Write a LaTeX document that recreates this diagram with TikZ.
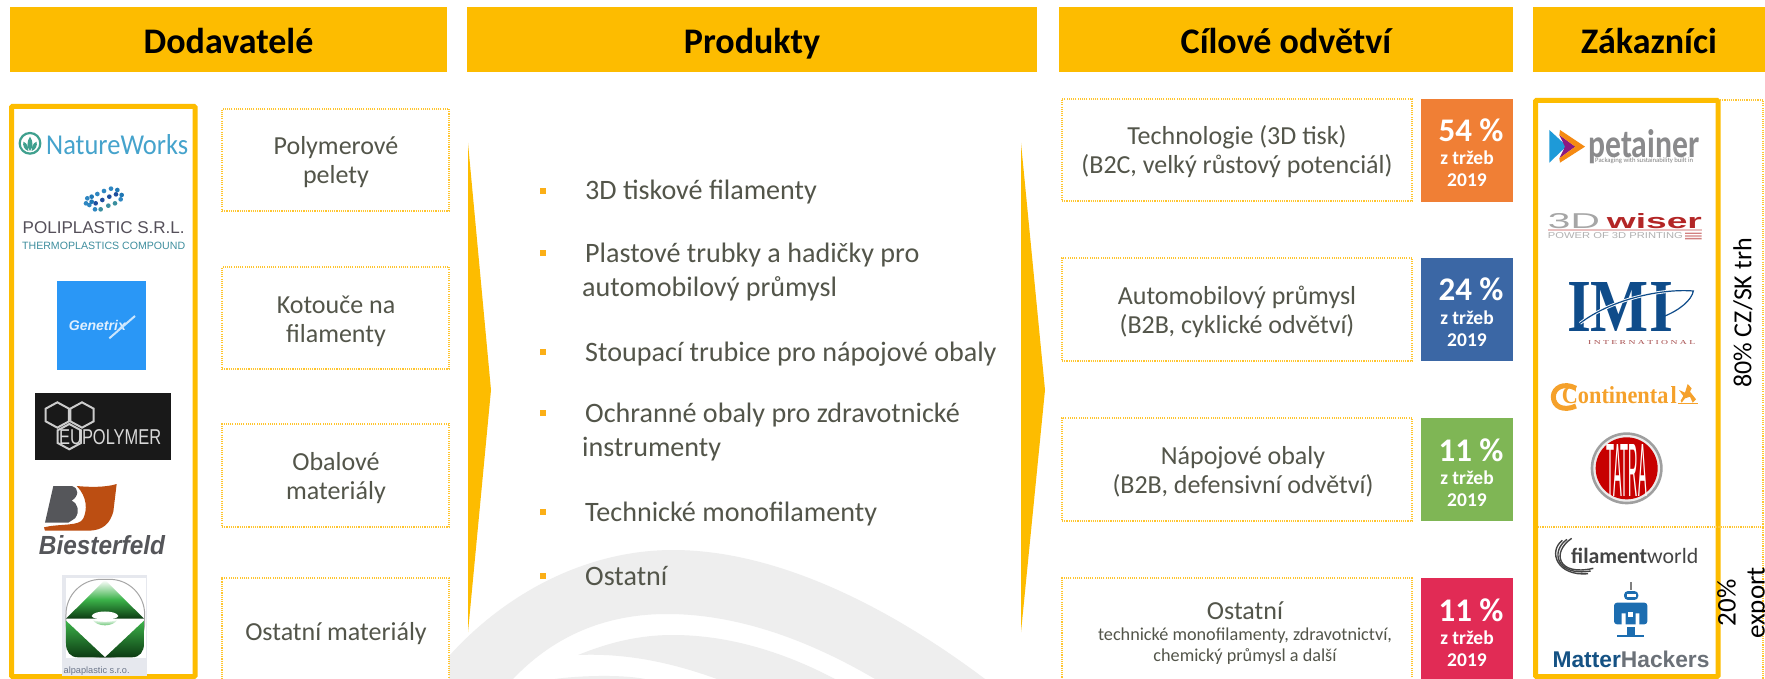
\documentclass[tikz,border=0pt]{standalone}
\usepackage{fontspec}
\usepackage{graphicx}
\setmainfont{Carlito}
\newfontfamily\arialf{Liberation Sans}
\newfontfamily\timesf{Liberation Serif}
\usetikzlibrary{shadings}
\definecolor{gold}{HTML}{FDBC00}
\definecolor{dotgold}{HTML}{FFC52E}
\definecolor{ink}{HTML}{53554A}
\definecolor{wm}{HTML}{EEEEEE}
\definecolor{bull}{HTML}{FBAF17}
\definecolor{cOrange}{HTML}{F07F35}
\definecolor{cBlue}{HTML}{3B67A5}
\definecolor{cGreen}{HTML}{7FB655}
\definecolor{cRed}{HTML}{E12B55}
\newcommand{\fz}[2]{\fontsize{#1}{#2}\selectfont}
\newcommand{\fitw}[2]{\resizebox{#1pt}{!}{#2}}
\newcommand{\fitwh}[3]{\resizebox{#1pt}{#2pt}{#3}}
\tikzset{
  header/.style={fill=gold,draw=none,inner sep=0,minimum height=65pt,text height=30pt,text depth=2pt,font=\fz{36}{40}\bfseries,text=black},
  dotbox/.style={draw=dotgold,line width=1.1pt,dash pattern=on 1.1pt off 1.1pt,fill=white,inner sep=0},
  lab/.style={anchor=base,inner sep=0,text=ink,font=\fz{26}{30}},
  lab2/.style={anchor=base,inner sep=0,text=ink,font=\fz{18.2}{22}},
  badge/.style={fill=#1,draw=none,inner sep=0,minimum width=92pt,minimum height=103pt},
  pct/.style={anchor=base,text=white,inner sep=0,font=\fz{33}{36}\bfseries},
  sub/.style={anchor=base,text=white,inner sep=0,font=\fz{19.5}{22}\bfseries},
  item/.style={anchor=west,inner sep=0,text=ink,text height=22pt,text depth=4pt,font=\fz{28.1}{32}},
  bullet/.style={fill=bull,draw=none,inner sep=0,minimum size=5.5pt},
  frame/.style={draw=gold,line width=5pt,rounded corners=1pt},
  dotline/.style={draw=dotgold,line width=1.1pt,dash pattern=on 1.1pt off 1.1pt},
  txt/.style={inner sep=0},
  zA/.style={shift={(0,90)},x=.33333pt,y=-.33333pt},
  zB/.style={shift={(0,380)},x=.33333pt,y=-.33333pt},
  zC/.style={shift={(1500,90)},x=.33333pt,y=-.33333pt},
  zD/.style={shift={(1500,380)},x=.33333pt,y=-.33333pt},
}
% two-line label centred in a box: name, x, box centre y, line 1, line 2
\newcommand{\twolab}[5]{%
  \node[lab] (#1a) at (#2,#3-5) {#4};
  \node[lab] (#1b) at (#2,#3+24) {#5};}
% badge: name, colour, top y, height, percentage
\newcommand{\pctbadge}[5]{%
  \node[badge=#2,minimum height=#4pt] (#1) at (1467,#3+#4/2) {};
  \node[pct] (#1a) at (1471,#3+43) {#5 \%};
  \node[sub] (#1b) at (1467,#3+66) {z tržeb};
  \node[sub] (#1c) at (1467,#3+88) {2019};}
\begin{document}
\begin{tikzpicture}[x=1pt,y=-1pt]
\clip (0,0) rectangle (1765,679);
\fill[white] (0,0) rectangle (1765,679);
% watermark
\fill[wm] (430,679) .. controls (490,600) and (580,550) .. (673,550) .. controls (770,550) and (880,600) .. (985,679) -- (875,679) .. controls (800,635) and (730,614) .. (667,614) .. controls (600,614) and (550,640) .. (513,679) -- cycle;
\fill[wm] (578,655) .. controls (610,642) and (640,635) .. (673,635) .. controls (725,635) and (780,650) .. (835,679) -- (717,679) .. controls (670,662) and (625,653) .. (578,655) -- cycle;
\fill[wm] (555,679) .. controls (575,676) and (620,674) .. (645,679) -- cycle;
% headers
\node[header,minimum width=437pt] (h1) at (228.5,39.5) {Dodavatelé};
\node[header,minimum width=570pt] (h2) at (752,39.5) {Produkty};
\node[header,minimum width=454pt] (h3) at (1286,39.5) {Cílové odvětví};
\node[header,minimum width=232pt] (h4) at (1649,39.5) {Zákazníci};
% arrows
\fill[gold] (468,143) -- (491,390) -- (468,632) -- cycle;
\fill[gold] (1021,143) -- (1045,390) -- (1021,632) -- cycle;
% supplier boxes
\node[dotbox,minimum width=227pt,minimum height=102pt] (s1) at (335.5,160) {};
\twolab{s1}{336}{160}{Polymerové}{pelety}
\node[dotbox,minimum width=227pt,minimum height=102pt] (s2) at (335.5,318) {};
\twolab{s2}{336}{318}{Kotouče na}{filamenty}
\node[dotbox,minimum width=227pt,minimum height=103pt] (s3) at (335.5,475.5) {};
\twolab{s3}{336}{475.5}{Obalové}{materiály}
\node[dotbox,minimum width=227pt,minimum height=108pt] (s4) at (335.5,632) {};
\node[lab] (s4a) at (336,640) {Ostatní materiály};
% products
\node[bullet] (b1) at (543,191) {};
\node[item] (i1) at (585,191) {3D tiskové filamenty};
\node[bullet] (b2) at (543,253) {};
\node[item] (i2) at (585,253) {Plastové trubky a hadičky pro};
\node[item] (i2b) at (582,287) {automobilový průmysl};
\node[bullet] (b3) at (543,352) {};
\node[item] (i3) at (585,352) {Stoupací trubice pro nápojové obaly};
\node[bullet] (b4) at (543,413) {};
\node[item] (i4) at (585,413) {Ochranné obaly pro zdravotnické};
\node[item] (i4b) at (582,447) {instrumenty};
\node[bullet] (b5) at (543,512) {};
\node[item] (i5) at (585,512) {Technické monofilamenty};
\node[bullet] (b6) at (543,576) {};
\node[item] (i6) at (585,576) {Ostatní};
% industries
\node[dotbox,minimum width=350pt,minimum height=102pt] (t1) at (1237,150) {};
\twolab{t1}{1237}{150}{Technologie (3D tisk)}{(B2C, velký růstový potenciál)}
\node[dotbox,minimum width=350pt,minimum height=103pt] (t2) at (1237,309.5) {};
\twolab{t2}{1237}{309.5}{Automobilový průmysl}{(B2B, cyklické odvětví)}
\node[dotbox,minimum width=350pt,minimum height=103pt] (t3) at (1237,469.5) {};
\twolab{t3}{1243}{469.5}{Nápojové obaly}{(B2B, defensivní odvětví)}
\node[dotbox,minimum width=350pt,minimum height=108pt] (t4) at (1237,632) {};
\node[lab] (t4a) at (1245,619) {Ostatní};
\node[lab2] (t4b) at (1245,640) {technické monofilamenty, zdravotnictví,};
\node[lab2] (t4c) at (1245,661) {chemický průmysl a další};
% badges
\pctbadge{g1}{cOrange}{99}{103}{54}
\pctbadge{g2}{cBlue}{258}{103}{24}
\pctbadge{g3}{cGreen}{418}{103}{11}
\pctbadge{g4}{cRed}{578}{104}{11}
% frames
\draw[frame] (11.5,106.5) rectangle (195,676.5);
\draw[frame] (1535.5,100.5) rectangle (1718,676.5);
% right dotted
\draw[dotline] (1720,100) -- (1763,100) -- (1763,679);
\draw[dotline] (1538,527) -- (1765,527);
\node[txt,rotate=90,font=\fz{26}{30}] (m1) at (1743,313) {80\% CZ/SK trh};
\node[txt,rotate=90,align=center,font=\fz{27}{29}] (m2) at (1743,603) {20\%\\export};
% ---- supplier logos
\begin{scope}[zA]
  \definecolor{nwt}{HTML}{3FA08E}
  \definecolor{nwb}{HTML}{45A3CC}
  \draw[draw=nwt,line width=2.2pt,fill=white] (90,160) circle (31);
  \fill[nwt] (90,140) .. controls (100,155) and (100,170) .. (90,183) .. controls (80,170) and (80,155) .. (90,140) -- cycle;
  \fill[nwt] (70,155) .. controls (82,160) and (85,170) .. (85,183) .. controls (72,178) and (68,168) .. (70,155) -- cycle;
  \fill[nwt] (110,155) .. controls (98,160) and (95,170) .. (95,183) .. controls (108,178) and (112,168) .. (110,155) -- cycle;
  \node[txt,text=nwb,anchor=west] (nw) at (138,163) {\fitwh{142}{20}{\fz{30}{30}NatureWorks}};
  \foreach \a/\b/\c in {262/325/2E86C1,275/320/1F77B4,292/312/2E86C1,312/303/2E86C1,333/296/2E86C1,352/300/1F77B4,365/315/1F77B4,362/328/2E86C1,345/340/3A8E9E,325/347/3A8E9E,287/340/1F4E9E,307/330/1F4E9E,328/320/1F4E9E,348/313/1F4E9E,268/345/2E86C1,285/358/2E86C1,302/358/3A8E9E,258/340/2E86C1,275/335/1F77B4}{
    \definecolor{dc}{HTML}{\c}
    \fill[dc] (\a,\b) circle (7);
  }
  \definecolor{plg}{HTML}{55505A}
  \definecolor{plt}{HTML}{3E8E9E}
  \node[txt,text=plg] (pl1) at (311,413) {\fitw{162}{\arialf POLIPLASTIC S.R.L.}};
  \node[txt,text=plt] (pl2) at (311,468) {\fitw{163}{\arialf THERMOPLASTICS COMPOUND}};
  \definecolor{genb}{HTML}{2A97F6}
  \fill[genb] (171,573) rectangle (438,840);
  \node[txt,text=white!85!genb] (gx) at (292,707) {\fitw{57}{\arialf\bfseries\itshape Genetrix}};
  \draw[white!75!genb,line width=2pt] (328,745) -- (405,678);
\end{scope}
\begin{scope}[zB]
  \fill[black!90] (105,39) rectangle (513,240);
  \foreach \a/\b in {172/105,246/105,208/170}{
    \draw[white!80!black,line width=2pt,fill=black!90] (\a,\b-38) -- (\a+35,\b-19) -- (\a+35,\b+19) -- (\a,\b+38) -- (\a-35,\b+19) -- (\a-35,\b-19) -- cycle;
  }
  \node[txt,text=white!85!black,anchor=west] (eu) at (177,170) {\fitwh{102}{15}{\arialf EUPOLYMER}};
  \definecolor{bzg}{HTML}{55565A}
  \definecolor{bzo}{HTML}{BC4E12}
  \fill[bzg] (160,318) -- (215,318) .. controls (240,325) and (235,350) .. (215,362) .. controls (235,372) and (240,395) .. (225,415) -- (205,428) -- (135,428) -- cycle;
  \fill[bzo] (230,318) .. controls (270,322) and (320,322) .. (350,312) -- (340,395) .. controls (330,430) and (310,450) .. (270,452) -- (135,452) -- (132,442) .. controls (180,430) and (240,440) .. (250,415) .. controls (262,390) and (262,350) .. (230,318) -- cycle;
  \node[txt,text=bzg] (bf) at (306,495) {\fitwh{126}{19}{\arialf\bfseries\itshape Biesterfeld}};
  \definecolor{alg}{HTML}{E6E8EE}
  \definecolor{ald}{HTML}{0C3A12}
  \definecolor{alm}{HTML}{3CB34A}
  \definecolor{alt}{HTML}{6A7488}
  \fill[alg] (186,585) rectangle (441,888);
  \fill[white] (198,595) rectangle (437,835);
  \draw[gray!70,line width=1pt,rounded corners=35pt] (198,598) rectangle (434,832);
  \shade[top color=white,bottom color=ald,middle color=alm] (315,600) -- (432,716) -- (198,716) -- cycle;
  \shade[top color=alm,bottom color=ald] (198,722) -- (315,832) -- (235,832) .. controls (210,832) and (198,815) .. (198,790) -- cycle;
  \shade[top color=alm,bottom color=ald] (432,722) -- (315,832) -- (395,832) .. controls (420,832) and (432,815) .. (432,790) -- cycle;
  \fill[white] (275,708) .. controls (280,690) and (350,690) .. (355,708) .. controls (350,722) and (280,722) .. (275,708) -- cycle;
  \shade[top color=white,bottom color=alm] (277,718) .. controls (290,742) and (340,742) .. (353,718) .. controls (340,728) and (290,728) .. (277,718) -- cycle;
  \node[txt,text=alt] (al) at (290,873) {\fitw{66}{\arialf alpaplastic s.r.o.}};
\end{scope}
% ---- customer logos
\begin{scope}[zC]
  \definecolor{peg}{HTML}{8A8A8C}
  \definecolor{peo}{HTML}{F58A12}
  \definecolor{pep}{HTML}{8A1A82}
  \definecolor{peb}{HTML}{1E9AD8}
  \fill[peb] (148,120) -- (200,168) -- (148,218) -- cycle;
  \fill[pep] (178,135) -- (226,170) -- (178,205) -- (195,170) -- cycle;
  \fill[peo] (180,120) -- (255,170) -- (180,218) -- (178,205) -- (226,170) -- (178,135) -- cycle;
  \node[txt,text=peg,anchor=west] (pe) at (265,170) {\fitwh{111}{28}{\fz{30}{30}\bfseries petainer}};
  \node[txt,text=gray,anchor=west,fill=white] (pe2) at (285,212) {\fitw{98}{Packaging with sustainability built in}};
  \node[txt,text=gray!70,anchor=west] (w1) at (143,392) {\fitwh{52}{15}{\arialf 3D}};
  \node[txt,text=red!65!black!85,anchor=west] (w2) at (320,392) {\fitwh{95}{15}{\arialf\bfseries wiser}};
  \node[txt,text=gray!60,anchor=west] (w3) at (143,437) {\fitwh{135}{6}{\arialf POWER OF 3D PRINTING}};
  \fill[red!65!black!50] (555,428) rectangle (605,432) (555,436) rectangle (605,440) (555,444) rectangle (605,448);
  \fill[red!65!black!25] (143,417) rectangle (605,424);
  \definecolor{imib}{HTML}{0F4C8A}
  \node[txt,text=imib] (im) at (360,652) {\fitwh{106}{49}{\timesf\bfseries IMI}};
  \draw[white,line width=3pt] (240,700) .. controls (330,630) and (480,595) .. (580,603);
  \draw[imib,line width=1.2pt] (240,700) .. controls (330,630) and (480,595) .. (580,603) .. controls (575,630) and (540,660) .. (490,680);
  \node[txt,text=red!50!black!70] (im2) at (425,758) {\fitwh{107}{4}{\timesf\fz{8}{8}I N T E R N A T I O N A L}};
\end{scope}
\begin{scope}[zD]
  \definecolor{cont}{HTML}{F5A12B}
  \draw[cont,line width=5pt] (228,25) .. controls (190,5) and (160,25) .. (160,50) .. controls (160,80) and (190,95) .. (228,78);
  \node[txt,text=cont,anchor=west] (co) at (185,46) {\fitwh{115}{17}{\timesf\bfseries Continenta\kern1pt l}};
  \fill[cont] (535,70) rectangle (593,73);
  \fill[cont] (537,30) -- (555,38) -- (563,12) -- (575,25) -- (570,35) -- (588,58) -- (578,68) -- (570,50) -- (555,55) -- (545,68) -- (542,62) -- (550,48) -- cycle;
  \fill[gray!75] (380,265) circle (108);
  \fill[white!85!gray] (380,265) circle (100);
  \fill[red!78!black] (380,265) circle (93);
  \node[txt,text=white] (ta) at (380,270) {\fitwh{41}{52}{\arialf TATRA}};
  \definecolor{fw}{HTML}{444444}
  \foreach \s in {0,1,2}{
    \draw[fw,line width=1.4pt] (215-\s*14,475+\s*3) .. controls (155-\s*6,515) and (170+\s,590) .. (280-\s*8,565+\s*8);
  }
  \node[txt,text=fw,anchor=west] (fi) at (213,528) {\fitw{127}{\fz{24}{24}\textbf{filament}world}};
  \definecolor{mh}{HTML}{1C6DB0}
  \definecolor{mhg}{HTML}{6B7178}
  \fill[gray] (389,605) rectangle (396,630);
  \fill[mh,rounded corners=4pt] (372,633) rectangle (415,660);
  \fill[white] (380,642) rectangle (407,650);
  \fill[mh,rounded corners=3pt] (342,668) rectangle (442,733);
  \fill[white] (365,700) rectangle (377,740) (407,700) rectangle (418,740);
  \fill[white] (385,695) rectangle (400,712);
  \fill[mh] (380,742) rectangle (405,768);
  \fill[mh] (352,765) rectangle (433,771);
  \node[txt,anchor=west] (mh1) at (157,838) {\fitw{157}{\bfseries\arialf\fz{24}{24}\textcolor{mh!75!black}{Matter}\textcolor{mhg}{Hackers}}};
\end{scope}
\end{tikzpicture}
\end{document}
